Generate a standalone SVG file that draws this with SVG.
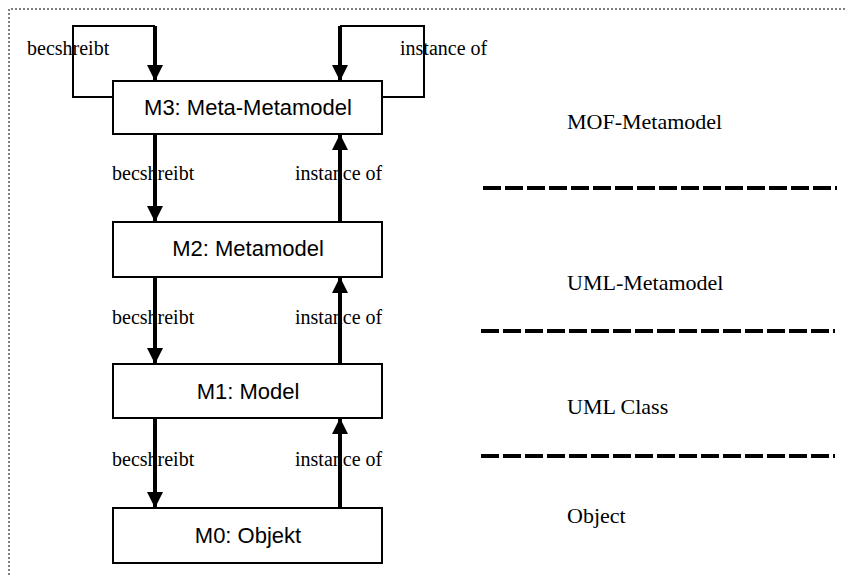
<svg xmlns="http://www.w3.org/2000/svg" width="845" height="575" viewBox="0 0 845 575">
<style>
.frame{fill:none;stroke:#000;stroke-width:1;stroke-dasharray:2 2}
.box{fill:#fff;stroke:#000;stroke-width:2}
.nt{font-family:"Liberation Sans",Arial,sans-serif;font-size:22px;text-anchor:middle;fill:#000}
.lbl{font-family:"Liberation Serif","Times New Roman",serif;font-size:20px;fill:#000}
.lay{font-family:"Liberation Serif","Times New Roman",serif;font-size:22px;fill:#000}
.thin{fill:none;stroke:#000;stroke-width:2}
.arr{fill:none;stroke:#000;stroke-width:4;marker-end:url(#ah)}
.sep{fill:none;stroke:#000;stroke-width:4;stroke-dasharray:18 4}
</style>
<defs>
<marker id="ah" markerUnits="userSpaceOnUse" viewBox="0 0 16 16" refX="16" refY="8" markerWidth="16" markerHeight="16" orient="auto">
<path d="M0,0 L16,8 L0,16 Z" fill="#000"/>
</marker>
</defs>
<rect width="845" height="575" fill="#fff"/>
<path class="frame" d="M9,575 L9,9 L845,9"/>
<g id="connectors">
<path class="thin" d="M113,97 L73,97 L73,26 L155,26"/>
<path class="arr" d="M155,26 L155,81"/>
<path class="thin" d="M382,97 L424,97 L424,26 L340,26"/>
<path class="arr" d="M340,26 L340,81"/>
<path class="arr" d="M155,134 L155,222"/>
<path class="arr" d="M340,222 L340,134"/>
<path class="arr" d="M155,277 L155,364"/>
<path class="arr" d="M340,364 L340,277"/>
<path class="arr" d="M155,418 L155,508"/>
<path class="arr" d="M340,508 L340,418"/>
<text class="lbl" x="27" y="55">becshreibt</text>
<text class="lbl" x="400" y="55">instance of</text>
<text class="lbl" x="112" y="180">becshreibt</text>
<text class="lbl" x="295" y="180">instance of</text>
<text class="lbl" x="112" y="324">becshreibt</text>
<text class="lbl" x="295" y="324">instance of</text>
<text class="lbl" x="112" y="466">becshreibt</text>
<text class="lbl" x="295" y="466">instance of</text>
</g>
<g id="m3">
<rect class="box" x="113" y="81" width="269" height="53"/>
<text class="nt" x="248" y="115">M3: Meta-Metamodel</text>
</g>
<g id="m2">
<rect class="box" x="113" y="222" width="269" height="55"/>
<text class="nt" x="248" y="256">M2: Metamodel</text>
</g>
<g id="m1">
<rect class="box" x="113" y="364" width="269" height="54"/>
<text class="nt" x="248" y="399">M1: Model</text>
</g>
<g id="m0">
<rect class="box" x="113" y="508" width="269" height="55"/>
<text class="nt" x="248" y="543">M0: Objekt</text>
</g>
<g id="layers">
<text class="lay" x="567" y="129">MOF-Metamodel</text>
<path class="sep" d="M483,188 L837,188"/>
<text class="lay" x="567" y="290">UML-Metamodel</text>
<path class="sep" d="M481,331 L835,331"/>
<text class="lay" x="567" y="414">UML Class</text>
<path class="sep" d="M481,456 L835,456"/>
<text class="lay" x="567" y="523">Object</text>
</g>
</svg>
